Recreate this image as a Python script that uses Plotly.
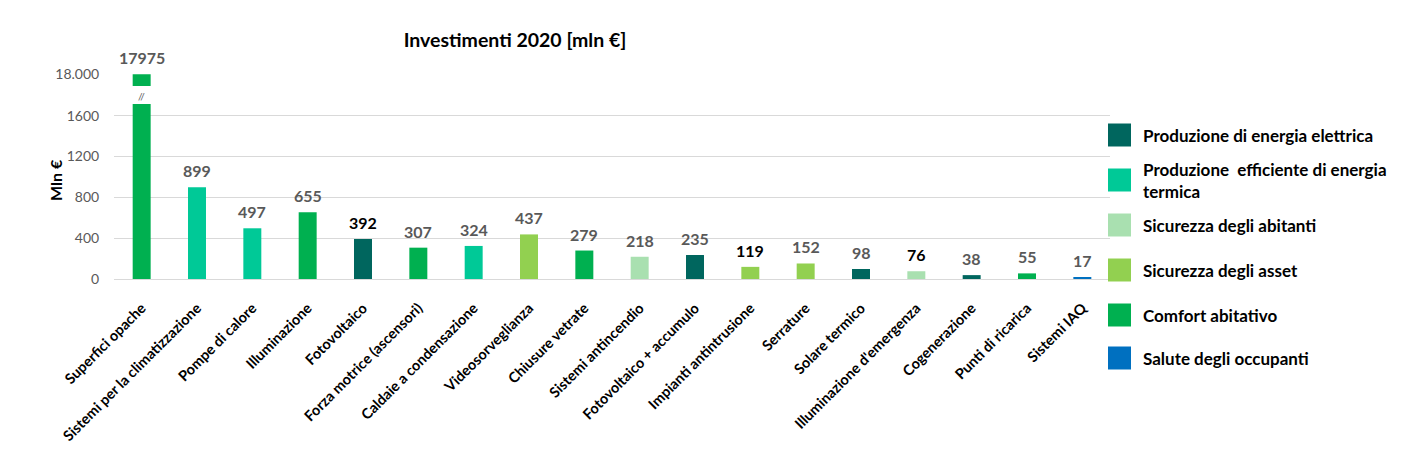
import plotly.graph_objects as go

# ---------------- data ----------------
categories = [
    "Superfici opache", "Sistemi per la climatizzazione", "Pompe di calore",
    "Illuminazione", "Fotovoltaico", "Forza motrice (ascensori)",
    "Caldaie a condensazione", "Videosorveglianza", "Chiusure vetrate",
    "Sistemi antincendio", "Fotovoltaico + accumulo", "Impianti antintrusione",
    "Serrature", "Solare termico", "Illuminazione d'emergenza",
    "Cogenerazione", "Punti di ricarica", "Sistemi IAQ",
]
values = [17975, 899, 497, 655, 392, 307, 324, 437, 279, 218, 235, 119,
          152, 98, 76, 38, 55, 17]
groups = [
    "Comfort abitativo", "Produzione efficiente di energia termica",
    "Produzione efficiente di energia termica", "Comfort abitativo",
    "Produzione di energia elettrica", "Comfort abitativo",
    "Produzione efficiente di energia termica", "Sicurezza degli asset",
    "Comfort abitativo", "Sicurezza degli abitanti",
    "Produzione di energia elettrica", "Sicurezza degli asset",
    "Sicurezza degli asset", "Produzione di energia elettrica",
    "Sicurezza degli abitanti", "Produzione di energia elettrica",
    "Comfort abitativo", "Salute degli occupanti",
]
dark_labels = [392, 119, 76]

legend_names = [
    "Produzione di energia elettrica",
    "Produzione efficiente di energia termica",
    "Sicurezza degli abitanti",
    "Sicurezza degli asset",
    "Comfort abitativo",
    "Salute degli occupanti",
]
legend_texts = [
    "Produzione di energia elettrica",
    "Produzione&nbsp; efficiente di energia<br>termica",
    "Sicurezza degli abitanti",
    "Sicurezza degli asset",
    "Comfort abitativo",
    "Salute degli occupanti",
]
legend_colors = ["#00665E", "#00C997", "#A9E0B0", "#92D050", "#00B050", "#0070C0"]

low_ticks = [0, 400, 800, 1200, 1600]
low_ticktext = ["0", "400", "800", "1200", "1600"]
high_ticks = [18000]
high_ticktext = ["18.000"]

# ---------------- layout geometry (pixels) ----------------
W, H = 1417, 458
PL, PR, PT, PB = 114, 1110, 74, 279       # plot area
pw, ph = PR - PL, PB - PT


def px_x(x):
    return (x - PL) / pw


def px_y(y):
    return (PB - y) / ph


color_map = dict(zip(legend_names, legend_colors))
bar_colors = [color_map[g] for g in groups]
FONT = "Lato"

fig = go.Figure()
fig.add_trace(go.Bar(x=categories, y=values, marker_color=bar_colors,
                     marker_line_width=0, xaxis="x", yaxis="y",
                     showlegend=False, hoverinfo="x+y"))
fig.add_trace(go.Bar(x=categories, y=values, marker_color=bar_colors,
                     marker_line_width=0, xaxis="x", yaxis="y2",
                     showlegend=False, hoverinfo="x+y"))

annotations = []
for c, v in zip(categories, values):
    col = "#000000" if v in dark_labels else "#595959"
    annotations.append(dict(
        x=c, y=v, xref="x", yref="y2" if v > 1715 else "y",
        text=str(v), showarrow=False, yanchor="bottom", yshift=5,
        font=dict(family=FONT, size=16, color=col, weight="bold")))

# break marker
annotations.append(dict(x=categories[0], y=px_y(96), xref="x", yref="paper",
                        text="//", showarrow=False, yanchor="middle",
                        font=dict(family=FONT, size=10, color="#595959")))

# y axis title
annotations.append(dict(x=px_x(55), y=px_y(180), xref="paper", yref="paper",
                        text="Mln €", textangle=-90, showarrow=False,
                        xanchor="center", yanchor="middle",
                        font=dict(family=FONT, size=16, color="#000000",
                                  weight="bold")))

# legend (manual)
shapes = []
legend_y = [135, 180, 225, 270, 315, 358]
for name, txt, col, yc in zip(legend_names, legend_texts, legend_colors, legend_y):
    shapes.append(dict(type="rect", xref="paper", yref="paper",
                       x0=px_x(1108), x1=px_x(1131),
                       y0=px_y(yc + 11.5), y1=px_y(yc - 11.5),
                       fillcolor=col, line_width=0))
    annotations.append(dict(x=px_x(1141), y=px_y(yc), xref="paper", yref="paper",
                            text=txt, showarrow=False, xanchor="left",
                            yanchor="middle", align="left",
                            font=dict(family=FONT, size=17, color="#000000",
                                      weight="bold")))

d_low_top = px_y(104)
d_high_bot = px_y(86)

fig.update_layout(
    width=W, height=H,
    margin=dict(l=PL, r=W - PR, t=PT, b=H - PB, pad=0),
    paper_bgcolor="white", plot_bgcolor="white",
    barmode="overlay", bargap=0.675,
    font=dict(family=FONT, color="#595959"),
    title=dict(text="<b>Investimenti 2020 [mln €]</b>", x=px_x(515), xref="paper",
               xanchor="center", y=1 - 40 / H, yanchor="middle",
               font=dict(family=FONT, size=19.5, color="#000000")),
    xaxis=dict(categoryorder="array", categoryarray=categories,
               tickangle=-45, ticks="outside", ticklen=14,
               tickcolor="rgba(0,0,0,0)", showgrid=False, showline=False,
               tickfont=dict(family=FONT, size=14.5, color="#000000",
                             weight="bold"),
               anchor="y", fixedrange=True),
    yaxis=dict(domain=[0, d_low_top], range=[0, 1715], tickvals=low_ticks,
               ticktext=low_ticktext, showgrid=True, gridcolor="#D9D9D9",
               gridwidth=1, zeroline=True, zerolinecolor="#D9D9D9",
               zerolinewidth=1, ticks="outside", ticklen=11,
               tickcolor="rgba(0,0,0,0)",
               tickfont=dict(family=FONT, size=14, color="#595959"),
               anchor="x", fixedrange=True),
    yaxis2=dict(domain=[d_high_bot, 1], range=[17000, 18000], tickvals=high_ticks,
                ticktext=high_ticktext, showgrid=True, gridcolor="#D9D9D9",
                gridwidth=1, zeroline=False, ticks="outside", ticklen=11,
                tickcolor="rgba(0,0,0,0)",
                tickfont=dict(family=FONT, size=14, color="#595959"),
                anchor="x", fixedrange=True),
    annotations=annotations,
    shapes=shapes,
)

fig.write_html(
    "out.html",
    config={"displayModeBar": False},
    post_script="document.body.style.margin='0';document.body.style.overflow='hidden';",
)
